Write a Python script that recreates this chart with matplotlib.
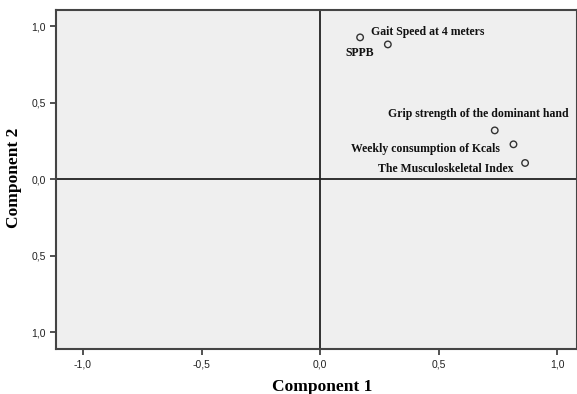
import matplotlib
matplotlib.use("Agg")
import matplotlib.pyplot as plt

names = ["Gait Speed at 4 meters", "SPPB", "Grip strength of the dominant hand",
         "Weekly consumption of Kcals", "The Musculoskeletal Index"]
comp1 = [0.169, 0.286, 0.737, 0.816, 0.865]
comp2 = [0.926, 0.880, 0.318, 0.227, 0.105]
# label anchor offsets (points) and alignment
offsets = [(8, 4), (-10, -6.5), (-11.5, 11.5), (-9.5, -3.6), (-8, -4.3)]
aligns = ["left", "right", "center", "right", "right"]

xticks = [-1.0, -0.5, 0.0, 0.5, 1.0]
xticklabels = ["-1,0", "-0,5", "0,0", "0,5", "1,0"]
yticks = [1.0, 0.5, 0.0, -0.5, -1.0]
yticklabels = ["1,0", "0,5", "0,0", "0,5", "1,0"]

fig = plt.figure(figsize=(5.77, 3.94), dpi=100)
ax = fig.add_axes([56/577, 1 - 349/394, (577 - 56)/577, (349 - 10)/394])
ax.set_facecolor("#efefef")
ax.set_xlim(-1.114, 1.084)
ax.set_ylim(-1.111, 1.105)

ax.axhline(0, color="#222222", lw=1.3, zorder=1)
ax.axvline(0, color="#222222", lw=1.3, zorder=1)

ax.scatter(comp1, comp2, s=22, facecolors="none", edgecolors="#333333", linewidths=1.0, zorder=3)
for n, x, y, off, ha in zip(names, comp1, comp2, offsets, aligns):
    ax.annotate(n, (x, y), xytext=off, textcoords="offset points", ha=ha, va="center",
                fontfamily="Liberation Serif", fontweight="bold", fontsize=8.5, color="#111111")

ax.set_xticks(xticks)
ax.set_xticklabels(xticklabels)
ax.set_yticks(yticks)
ax.set_yticklabels(yticklabels)
ax.tick_params(direction="out", length=4, width=1.2, color="#333333", labelsize=7.5,
               labelcolor="#222222")
for lab in ax.get_xticklabels() + ax.get_yticklabels():
    lab.set_fontfamily("Liberation Sans")
for s in ax.spines.values():
    s.set_color("#444444")
    s.set_linewidth(1.5)

ax.set_xlabel("Component 1", fontfamily="Liberation Serif", fontweight="bold", fontsize=12.5)
ax.xaxis.set_label_coords((322 - 56) / 521, (349 - 387) / 339)
ax.xaxis.label.set_va("center")
ax.set_ylabel("Component 2", fontfamily="Liberation Serif", fontweight="bold", fontsize=12.5)
ax.yaxis.set_label_coords((14 - 56) / 521, (349 - 178) / 339)
ax.yaxis.label.set_va("center")

fig.savefig("out.png", dpi=100)
